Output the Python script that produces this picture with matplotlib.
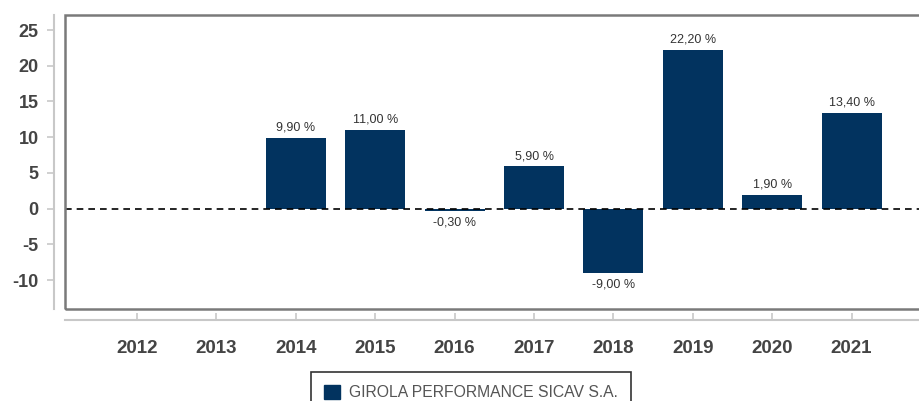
import numpy as np
import matplotlib.pyplot as plt
from matplotlib.patches import Rectangle

plt.rcParams['font.family'] = ['Liberation Sans', 'DejaVu Sans']
plt.rcParams['axes.unicode_minus'] = False

years = ['2012', '2013', '2014', '2015', '2016', '2017', '2018', '2019', '2020', '2021']
returns = [np.nan, np.nan, 9.90, 11.00, -0.30, 5.90, -9.00, 22.20, 1.90, 13.40]
y_ticks = [-10, -5, 0, 5, 10, 15, 20, 25]
series_name = 'GIROLA PERFORMANCE SICAV S.A.'

bar_color = '#02335f'
W, H = 920, 401

fig = plt.figure(figsize=(W / 100, H / 100), dpi=100)
ax = fig.add_axes([65 / W, (H - 309) / H, (935 - 65) / W, (309 - 15) / H])

x = np.arange(len(years))
bars = ax.bar(x, returns, width=0.755, color=bar_color, zorder=2)

# value labels
for xi, v in zip(x, returns):
    if np.isnan(v):
        continue
    txt = f'{v:.2f}'.replace('.', ',') + ' %'
    if v >= 0:
        ax.annotate(txt, (xi, v), xytext=(0, 3), textcoords='offset points',
                    ha='center', va='bottom', fontsize=9, color='#333333')
    else:
        ax.annotate(txt, (xi, v), xytext=(0, -4), textcoords='offset points',
                    ha='center', va='top', fontsize=9, color='#333333')

ax.axhline(0, color='black', lw=1.2, ls=(0, (4, 3)), zorder=3)

ax.set_xlim(-0.907, -0.907 + (935 - 65) / 79.4)
ax.set_ylim(-14.05, 27.1)
ax.set_yticks(y_ticks)
ax.set_xticks(x)
ax.set_xticklabels(years)

# frame around the plot area
ax.add_patch(Rectangle((0, 0), 1, 1, transform=ax.transAxes, fill=False,
                       ec='#7a7a7a', lw=1.8, clip_on=False, zorder=4))

for s in ['top', 'right']:
    ax.spines[s].set_visible(False)
ax.spines['left'].set_position(('outward', 8))
ax.spines['bottom'].set_position(('outward', 8))
ax.spines['left'].set_color('#c8c8c8')
ax.spines['bottom'].set_color('#c8c8c8')
ax.spines['left'].set_linewidth(1.5)
ax.spines['bottom'].set_linewidth(1.5)

ax.tick_params(axis='y', direction='out', length=5, color='#c8c8c8', width=1.2,
               labelsize=13, labelcolor='#444444', pad=6)
ax.tick_params(axis='x', direction='in', length=5, color='#c8c8c8', width=1.2,
               labelsize=13.5, labelcolor='#444444', pad=14)
for lab in ax.get_yticklabels() + ax.get_xticklabels():
    lab.set_fontweight('bold')

leg = fig.legend([Rectangle((0, 0), 1, 1, color=bar_color)], [series_name],
                 loc='upper center', bbox_to_anchor=(471 / W, (H - 372) / H),
                 frameon=True, fancybox=False, fontsize=11.3, handlelength=1.0,
                 handleheight=1.0, handletextpad=0.6, borderpad=0.8,
                 borderaxespad=0, labelcolor='#555555')
leg.get_frame().set_edgecolor('black')
leg.get_frame().set_linewidth(1.2)

fig.savefig('out.png', dpi=100)
